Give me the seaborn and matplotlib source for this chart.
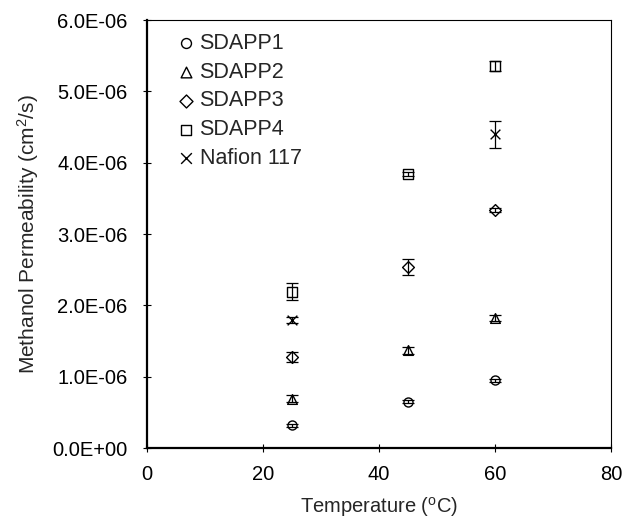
import numpy as np
import pandas as pd
import matplotlib
matplotlib.use("Agg")
import matplotlib.pyplot as plt
import seaborn as sns
from matplotlib.ticker import FuncFormatter

sns.set_style("white")
plt.rcParams['font.family'] = ['Liberation Sans', 'DejaVu Sans']

temps = [25, 45, 60]
sdapp1 = [0.32e-6, 0.65e-6, 0.95e-6]
sdapp1_err = [0.02e-6, 0.02e-6, 0.02e-6]
sdapp2 = [0.69e-6, 1.37e-6, 1.82e-6]
sdapp2_err = [0.05e-6, 0.05e-6, 0.04e-6]
sdapp3 = [1.28e-6, 2.54e-6, 3.34e-6]
sdapp3_err = [0.07e-6, 0.11e-6, 0.03e-6]
sdapp4 = [2.19e-6, 3.84e-6, 5.36e-6]
sdapp4_err = [0.12e-6, 0.03e-6, 0.07e-6]
nafion_t = [25, 60]
nafion = [1.79e-6, 4.40e-6]
nafion_err = [0.04e-6, 0.19e-6]

series = [
    ("SDAPP1", temps, sdapp1, sdapp1_err, "o"),
    ("SDAPP2", temps, sdapp2, sdapp2_err, "^"),
    ("SDAPP3", temps, sdapp3, sdapp3_err, "D"),
    ("SDAPP4", temps, sdapp4, sdapp4_err, "s"),
    ("Nafion 117", nafion_t, nafion, nafion_err, "x"),
]

fig = plt.figure(figsize=(6.24, 5.19), dpi=100)
ax = fig.add_axes([147/624, 1-448/519, (611-147)/624, (448-20)/519])

rows = []
for name, t, v, e, m in series:
    for ti, vi, ei in zip(t, v, e):
        rows.append(dict(series=name, T=ti, P=vi, err=ei))
df = pd.DataFrame(rows)

sizes = {"o": 6.5, "^": 7, "D": 6, "s": 6.5, "x": 7}
for name, t, v, e, m in series:
    sub = df[df.series == name]
    if m == "x":
        sns.scatterplot(data=sub, x="T", y="P", marker="x", s=sizes[m]**2,
                        color="black", linewidth=1.0, ax=ax, label=name, zorder=3)
    else:
        sns.scatterplot(data=sub, x="T", y="P", marker=m, s=sizes[m]**2,
                        facecolor="white", edgecolor="black", linewidth=1.0,
                        ax=ax, label=name, zorder=3)
    ax.errorbar(sub["T"], sub["P"], yerr=sub["err"], fmt="none", ecolor="black",
                elinewidth=0.9, capsize=4.5, capthick=0.9, zorder=4)

ax.set_xlim(0, 80)
ax.set_ylim(0, 6e-6)
ax.set_xticks([0, 20, 40, 60, 80])
ax.set_yticks(np.arange(0, 6.01e-6, 1e-6))
ax.yaxis.set_major_formatter(FuncFormatter(lambda v, p: f"{v:.1E}"))
ax.tick_params(axis="both", direction="inout", length=6, width=0.8,
               labelsize=14.5, colors="black", left=True, bottom=True)
ax.tick_params(axis="x", pad=9)
ax.tick_params(axis="y", pad=11)
for s in ["left", "bottom"]:
    ax.spines[s].set_linewidth(1.6)
    ax.spines[s].set_color("black")
for s in ["top", "right"]:
    ax.spines[s].set_linewidth(0.8)
    ax.spines[s].set_color("black")
ax.set_xlabel("Temperature ($\\mathregular{^{o}}$C)", fontsize=14.5, labelpad=8)
ax.set_ylabel("Methanol Permeability (cm$\\mathregular{^{2}}$/s)", fontsize=15, labelpad=8)

leg = ax.legend(loc="upper left", frameon=False, fontsize=15.5, handletextpad=0.15,
                borderaxespad=0.3, labelspacing=0.36, handlelength=1.0, borderpad=0.3,
                markerscale=1.1)
leg.set_bbox_to_anchor((0.032, 1.0), transform=ax.transAxes)

fig.savefig("out.png", dpi=100)
